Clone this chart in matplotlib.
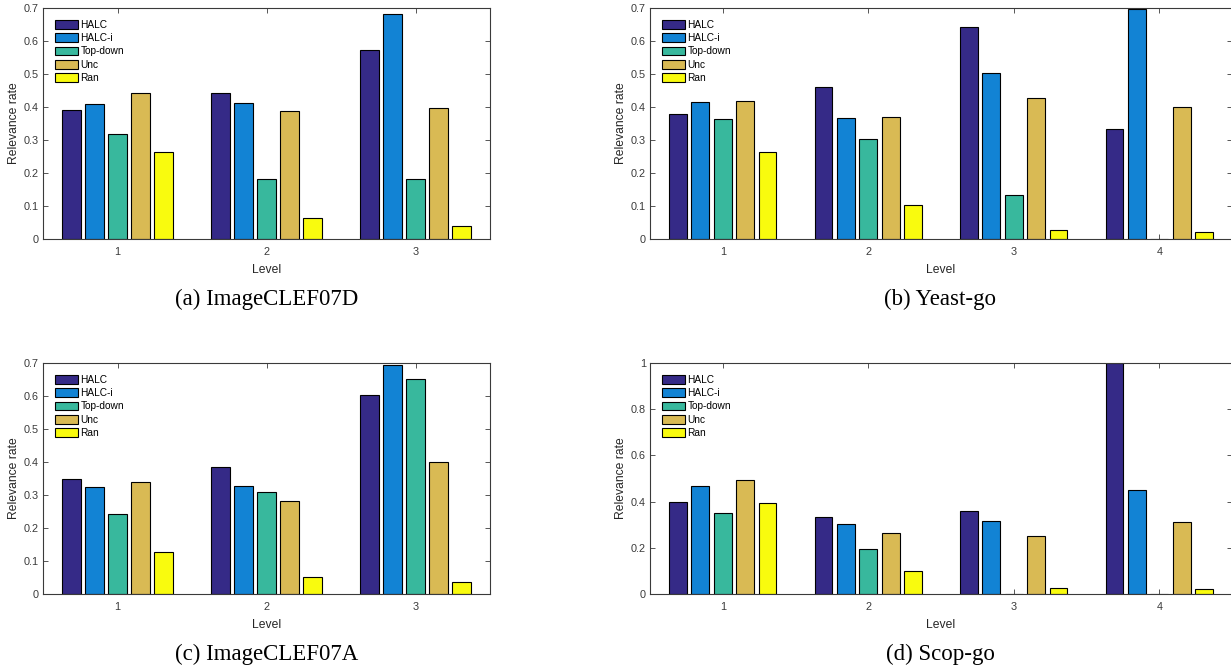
# relevance rate per level, four datasets (grouped bars, matlab-like look)
import matplotlib
matplotlib.use("Agg")
import matplotlib.pyplot as plt
from matplotlib.ticker import FuncFormatter
import numpy as np

plt.rcParams["font.family"] = "Liberation Sans"

# --- data ---
methods = ["HALC", "HALC-i", "Top-down", "Unc", "Ran"]

# rows = methods, columns = levels
imageClef07D = [
    [0.390, 0.443, 0.572],
    [0.410, 0.411, 0.683],
    [0.318, 0.183, 0.182],
    [0.442, 0.388, 0.398],
    [0.265, 0.065, 0.039],
]
yeastGo = [
    [0.379, 0.462, 0.641, 0.333],
    [0.416, 0.368, 0.502, 0.697],
    [0.363, 0.303, 0.132, 0.0],
    [0.418, 0.370, 0.426, 0.400],
    [0.265, 0.104, 0.027, 0.020],
]
imageClef07A = [
    [0.350, 0.385, 0.603],
    [0.325, 0.327, 0.695],
    [0.242, 0.308, 0.652],
    [0.339, 0.282, 0.400],
    [0.128, 0.052, 0.036],
]
scopGo = [
    [0.397, 0.333, 0.361, 1.0],
    [0.466, 0.302, 0.315, 0.450],
    [0.351, 0.193, 0.0, 0.0],
    [0.494, 0.266, 0.250, 0.313],
    [0.395, 0.098, 0.027, 0.022],
]

captions = ["(a) ImageCLEF07D", "(b) Yeast-go", "(c) ImageCLEF07A", "(d) Scop-go"]
yLimits = [0.7, 0.7, 0.7, 1.0]
yTickSteps = [0.1, 0.1, 0.1, 0.2]

# parula-ish colours
colors = ["#352A87", "#1283D4", "#38B89D", "#D9BA54", "#F9FB0E"]

W, H = 1231, 666
fig = plt.figure(figsize=(W / 100, H / 100), dpi=100)

# axes boxes in pixels: left, top, right, bottom
boxes = [
    (43, 8, 490, 239),
    (650, 8, 1232, 239),
    (43, 363, 490, 594),
    (650, 363, 1232, 594),
]
datasets = [imageClef07D, yeastGo, imageClef07A, scopGo]
spineColor = "#3a3a3a"


def drawPanel(ax, values, yMax, yStep):
    values = np.array(values)
    nMethods, nLevels = values.shape
    levels = np.arange(1, nLevels + 1)
    # matlab grouped bar geometry
    groupWidth = min(0.8, nMethods / (nMethods + 1.5))
    step = groupWidth / nMethods
    for i in range(nMethods):
        offset = (i - (nMethods - 1) / 2) * step
        ax.bar(levels + offset, values[i], width=step * 0.8, color=colors[i],
               edgecolor="black", linewidth=0.8, label=methods[i], zorder=2)

    ax.set_xlim(0.5, nLevels + 0.5)
    ax.set_ylim(0, yMax)
    ax.set_xticks(levels)
    ax.set_yticks(np.round(np.arange(0, yMax + 1e-9, yStep), 2))
    ax.yaxis.set_major_formatter(FuncFormatter(lambda v, p: "%g" % v))
    ax.tick_params(direction="in", length=3.5, width=0.6, labelsize=7.8,
                   colors=spineColor, top=True, right=True, pad=3)
    ax.tick_params(axis="x", pad=6)
    for s in ax.spines.values():
        s.set_color(spineColor)
        s.set_linewidth(0.8)
    ax.set_xlabel("Level", fontsize=8.7, color="#262626", labelpad=5)
    ax.set_ylabel("Relevance rate", fontsize=8.7, color="#262626", labelpad=3)

    # legend in the upper left, no frame
    axW = ax.get_position().width * W
    axH = ax.get_position().height * H
    ax.legend(loc="upper left", bbox_to_anchor=(12 / axW, 1 - 12 / axH),
              frameon=False, fontsize=7.3, borderpad=0, borderaxespad=0,
              handlelength=2.3, handleheight=0.95, handletextpad=0.2,
              labelspacing=0.32)


for k in range(4):
    l, t, r, b = boxes[k]
    ax = fig.add_axes([l / W, 1 - b / H, (r - l) / W, (b - t) / H])
    drawPanel(ax, datasets[k], yLimits[k], yTickSteps[k])
    cx = (l + min(r, W)) / 2 / W
    fig.text(cx, 1 - (b + 60) / H, captions[k], ha="center", va="center",
             fontsize=16.5, family="Liberation Serif")

fig.savefig("out.png", dpi=100)
